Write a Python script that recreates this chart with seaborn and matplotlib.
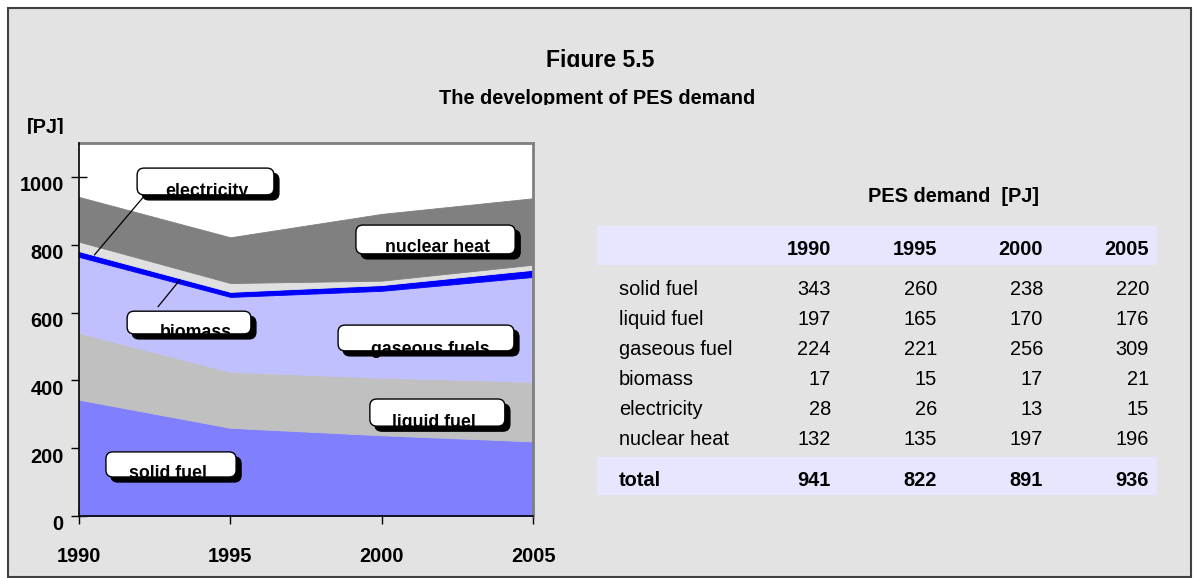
import seaborn as sns
import matplotlib.pyplot as plt
from matplotlib.patches import FancyBboxPatch, Rectangle
from matplotlib.transforms import Bbox, TransformedBbox, ScaledTranslation, IdentityTransform

# data (PJ)
years = [1990, 1995, 2000, 2005]
solid_fuel = [343, 260, 238, 220]
liquid_fuel = [197, 165, 170, 176]
gaseous_fuel = [224, 221, 256, 309]
biomass = [17, 15, 17, 21]
electricity = [28, 26, 13, 15]
nuclear_heat = [132, 135, 197, 196]
totals = [941, 822, 891, 936]
row_names = ['solid fuel', 'liquid fuel', 'gaseous fuel', 'biomass', 'electricity', 'nuclear heat']
series = [solid_fuel, liquid_fuel, gaseous_fuel, biomass, electricity, nuclear_heat]
colors = ['#8080FF', '#C0C0C0', '#C0C0FF', '#0000FF', '#E0E0E0', '#808080']

# callout boxes: text, box x0, x1 (year), y0, y1 (PJ), text x, text baseline
callouts = [
    ('electricity', 1991.92, 1996.44, 947, 1026, 1994.23, 944),
    ('nuclear heat', 1999.15, 2004.41, 773, 858, 2001.83, 779),
    ('biomass', 1991.59, 1995.68, 537, 604, 1993.86, 528),
    ('gaseous fuels', 1998.56, 2004.37, 487, 563, 2001.62, 478),
    ('liquid fuel', 1999.61, 2004.07, 265, 345, 2001.74, 262),
    ('solid fuel', 1990.89, 1995.19, 115, 189, 1992.93, 112),
]
leaders = [((1992.13, 941), (1990.51, 770)), ((1992.61, 617), (1993.33, 696))]

sns.set_theme(style='white', rc={'text.color': 'black', 'xtick.color': 'black',
                                 'ytick.color': 'black', 'axes.labelcolor': 'black'})
plt.rcParams['font.family'] = ['Liberation Sans', 'DejaVu Sans']

W, H = 1193, 578
fig = plt.figure(figsize=(W / 100, H / 100), dpi=100, facecolor='white')


def fx(x):
    return x / W


def fy(y):
    return 1 - y / H


def clip_below(t, y):
    t.set_clip_box(TransformedBbox(Bbox([[0, fy(y)], [1, 1]]), fig.transFigure))
    t.set_clip_on(True)


# grey panel with frame
fig.add_artist(Rectangle((fx(8), fy(577)), fx(1191) - fx(8), fy(8) - fy(577),
                         transform=fig.transFigure, facecolor='#E3E3E3',
                         edgecolor='#404040', lw=1.5, zorder=-1))

t = fig.text(fx(600), fy(67), 'Figure 5.5', ha='center', va='baseline',
             fontsize=16.6, fontweight='bold')
clip_below(t, 67)
t = fig.text(fx(597), fy(104), 'The development of PES demand', ha='center',
             va='baseline', fontsize=14.4, fontweight='bold')
clip_below(t, 104.5)
t = fig.text(fx(27), fy(133), '[PJ]', ha='left', va='baseline', fontsize=14.4,
             fontweight='bold')
clip_below(t, 133.5)

# stacked area chart
ax = fig.add_axes([fx(79), fy(516), fx(533) - fx(79), fy(143) - fy(516)])
ax.set_facecolor('white')
polys = ax.stackplot(years, *series, colors=colors, lw=0)
for p, c in zip(polys, colors):
    p.set_edgecolor(c)
    p.set_linewidth(0.6)
ax.set_xlim(1990, 2005)
ax.set_ylim(0, 1100)
ax.set_xticks(years)
ax.set_yticks(range(0, 1001, 200))
ax.tick_params(axis='both', direction='inout', length=12, width=1, color='black',
               labelcolor='black', labelsize=14.4, bottom=True, left=True)
ax.tick_params(axis='x', pad=16)
ax.tick_params(axis='y', pad=5)
for lab in ax.get_xticklabels() + ax.get_yticklabels():
    lab.set_fontweight('bold')
shift = ScaledTranslation(0, -0.07, fig.dpi_scale_trans)
for lab in ax.get_yticklabels():
    lab.set_transform(lab.get_transform() + shift)
for side in ['top', 'right']:
    ax.spines[side].set_color('#808080')
    ax.spines[side].set_linewidth(2)
for side in ['left', 'bottom']:
    ax.spines[side].set_color('black')
    ax.spines[side].set_linewidth(1.2)
    ax.spines[side].set_zorder(3)

for (x0, y0), (x1, y1) in leaders:
    ax.plot([x0, x1], [y0, y1], color='black', lw=0.9, zorder=3)

for name, x0, x1, y0, y1, tx, ty in callouts:
    (px0, py0) = ax.transData.transform((x0, y0))
    (px1, py1) = ax.transData.transform((x1, y1))
    shadow = FancyBboxPatch((px0 + 5, py0 - 5), px1 - px0, py1 - py0,
                            boxstyle='round,pad=0,rounding_size=7',
                            transform=IdentityTransform(), fc='black', ec='black',
                            lw=1, zorder=4, clip_on=False)
    box = FancyBboxPatch((px0, py0), px1 - px0, py1 - py0,
                         boxstyle='round,pad=0,rounding_size=7',
                         transform=IdentityTransform(), fc='white', ec='black',
                         lw=1, zorder=5, clip_on=False)
    ax.add_patch(shadow)
    ax.add_patch(box)
    txt = ax.text(tx, ty, name, ha='center', va='baseline', fontsize=12.8,
                  fontweight='bold', color='black', zorder=6)
    txt.set_clip_path(box)

# table
col_x = [831, 937, 1043, 1149]
fig.text(fx(953), fy(202), 'PES demand  [PJ]', ha='center', va='baseline',
         fontsize=14.4, fontweight='bold')
for y0, y1 in [(226, 265), (457, 495)]:
    fig.add_artist(Rectangle((fx(597), fy(y1)), fx(1157) - fx(597), fy(y0) - fy(y1),
                             transform=fig.transFigure, facecolor='#E6E6FF',
                             edgecolor='none', zorder=0))
for x, yr in zip(col_x, years):
    fig.text(fx(x), fy(255), str(yr), ha='right', va='baseline', fontsize=14.4,
             fontweight='bold')
for i, (name, vals) in enumerate(zip(row_names, series)):
    yb = 295 + 30 * i
    fig.text(fx(619), fy(yb), name, ha='left', va='baseline', fontsize=14.4)
    for x, v in zip(col_x, vals):
        fig.text(fx(x), fy(yb), str(v), ha='right', va='baseline', fontsize=14.4)
fig.text(fx(619), fy(486), 'total', ha='left', va='baseline', fontsize=14.4,
         fontweight='bold')
for x, v in zip(col_x, totals):
    fig.text(fx(x), fy(486), str(v), ha='right', va='baseline', fontsize=14.4,
             fontweight='bold')

fig.savefig('out.png', dpi=100)
